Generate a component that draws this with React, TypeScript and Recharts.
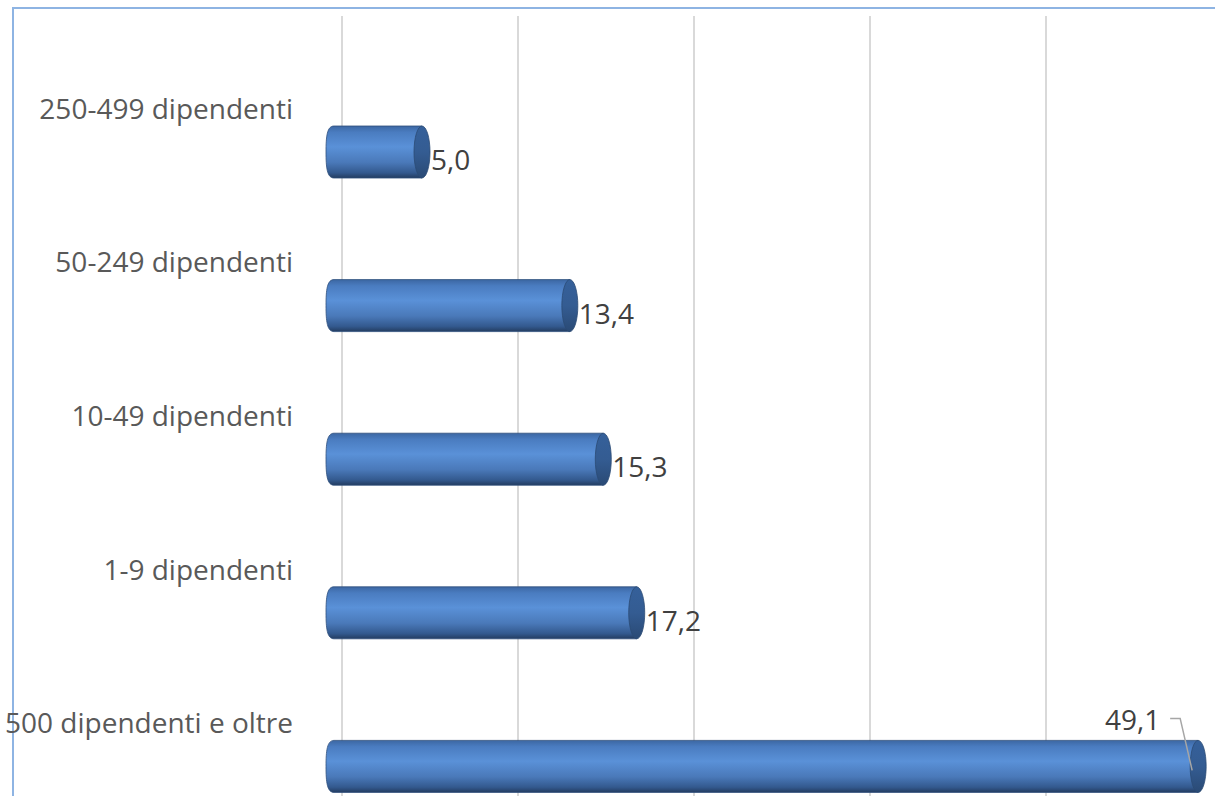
import { BarChart, Bar, XAxis, YAxis, CartesianGrid, LabelList } from 'recharts';

const categories = [
  '250-499 dipendenti',
  '50-249 dipendenti',
  '10-49 dipendenti',
  '1-9 dipendenti',
  '500 dipendenti e oltre',
];
const shares = [5.0, 13.4, 15.3, 17.2, 49.1];
const xTicks = [0, 10, 20, 30, 40, 50];

const data = categories.map((name, i) => ({ name, value: shares[i] }));

const FONT = '"Open Sans", sans-serif';
const DEPTH = 8; // 3D back wall offset for gridlines
const CAP = 8;

const fmt = (v: number) => v.toFixed(1).replace('.', ',');

function CategoryTick(props: any) {
  const { y, payload } = props;
  return (
    <text x={293} y={y - 33} textAnchor="end" fontFamily={FONT} fontSize={28} fill="#595959">
      {payload.value}
    </text>
  );
}

function Cylinder(props: any) {
  const { x, y, width, height } = props;
  if (width == null || height == null) return null;
  const r = x + width;
  const m = y + height / 2;
  const body = `M ${x} ${y} L ${r} ${y} L ${r} ${y + height} L ${x} ${y + height}
    C ${x - 7} ${y + height}, ${x - CAP} ${y + height * 0.8}, ${x - CAP} ${m}
    C ${x - CAP} ${y + height * 0.2}, ${x - 7} ${y}, ${x} ${y} Z`;
  return (
    <g>
      <path d={body} fill="url(#cylBody)" stroke="#2e4f7c" strokeWidth={0.8} />
      <ellipse cx={r} cy={m} rx={CAP} ry={height / 2} fill="url(#cylCap)" stroke="#2b4a74" strokeWidth={0.8} />
    </g>
  );
}

function ValueLabel(props: any) {
  const { x, y, width, height, value } = props;
  const end = x + width;
  if (end + 60 > 1215) {
    return (
      <g>
        <text x={end - 38} y={y - 10} textAnchor="end" fontFamily={FONT} fontSize={28} fill="#404040">
          {fmt(value)}
        </text>
        <polyline
          points={`${end - 28},${y - 22} ${end - 18},${y - 22} ${end - 6},${y + 30}`}
          fill="none"
          stroke="#a6a6a6"
          strokeWidth={1.5}
        />
      </g>
    );
  }
  return (
    <text x={end + CAP + 1} y={y + height / 2 + 18} fontFamily={FONT} fontSize={28} fill="#404040">
      {fmt(value)}
    </text>
  );
}

export default function App() {
  return (
    <div
      style={{
        position: 'fixed',
        left: 0,
        top: 0,
        width: 1215,
        height: 796,
        overflow: 'hidden',
        background: '#fff',
      }}
    >
      <div
        style={{
          position: 'absolute',
          left: 12,
          top: 7,
          width: 1300,
          height: 900,
          borderTop: '2px solid #8eb4e3',
          borderLeft: '2px solid #8eb4e3',
        }}
      />
      <div style={{ position: 'absolute', left: 0, top: 0 }}>
        <BarChart
          width={1215}
          height={850}
          data={data}
          layout="vertical"
          margin={{ top: 16, right: 1, bottom: 7, left: 0 }}
        >
          <defs>
            <linearGradient id="cylBody" x1="0" y1="0" x2="0" y2="1">
              <stop offset="0" stopColor="#3c67a3" />
              <stop offset="0.12" stopColor="#4a7cc0" />
              <stop offset="0.4" stopColor="#5a91d8" />
              <stop offset="0.7" stopColor="#4a79b9" />
              <stop offset="0.9" stopColor="#33598e" />
              <stop offset="1" stopColor="#233c60" />
            </linearGradient>
            <linearGradient id="cylCap" x1="0" y1="0" x2="0" y2="1">
              <stop offset="0" stopColor="#35609a" />
              <stop offset="0.5" stopColor="#345c92" />
              <stop offset="1" stopColor="#2a4a75" />
            </linearGradient>
          </defs>
          <CartesianGrid
            horizontal={false}
            stroke="#d9d9d9"
            strokeWidth={2}
            verticalCoordinatesGenerator={({ offset }: any) =>
              xTicks.map((t) => offset.left + (t / 50) * offset.width + DEPTH)
            }
          />
          <XAxis type="number" domain={[0, 50]} ticks={xTicks} hide />
          <YAxis
            type="category"
            dataKey="name"
            width={334}
            axisLine={false}
            tickLine={false}
            tick={<CategoryTick />}
            padding={{ top: 59, bottom: 0 }}
            interval={0}
          />
          <Bar dataKey="value" barSize={52} shape={<Cylinder />} isAnimationActive={false}>
            <LabelList dataKey="value" content={<ValueLabel />} />
          </Bar>
        </BarChart>
      </div>
    </div>
  );
}
